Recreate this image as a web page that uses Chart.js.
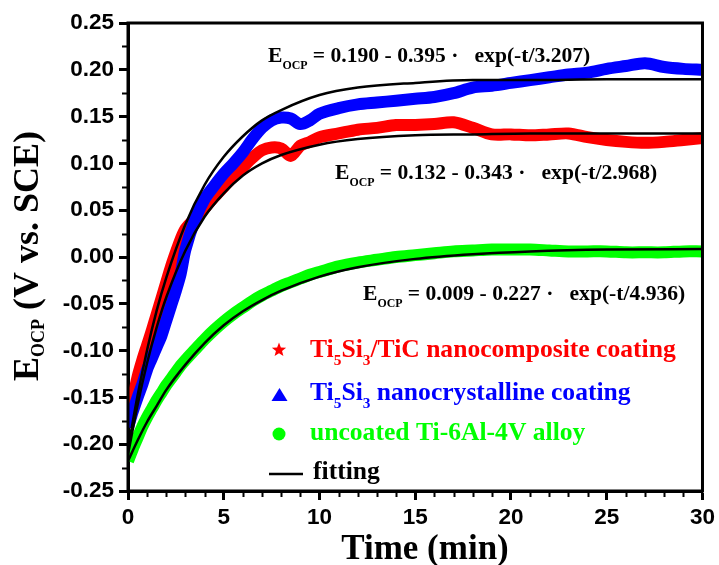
<!DOCTYPE html>
<html>
<head>
<meta charset="utf-8">
<script src="https://cdn.jsdelivr.net/npm/chart.js@4.4.1/dist/chart.umd.min.js"></script>
<style>
  html, body { margin: 0; padding: 0; background: #fff; }
  #wrap { width: 719px; height: 565px; }
</style>
</head>
<body>
<div id="wrap"><canvas id="ocpChart" width="719" height="565"></canvas></div>
<script>
// measured curves (time in min, E in V vs. SCE)
const timeData = [0, 0.25, 0.5, 0.75, 1, 1.25, 1.5, 1.75, 2, 2.25, 2.5, 2.75, 3,
  3.5, 4, 4.5, 5, 5.5, 6, 6.5, 7, 7.5, 8, 8.5, 9, 9.5, 10,
  11, 12, 13, 14, 15, 16, 17, 18, 19, 20, 21, 22, 23, 24, 25, 26, 27, 28, 29, 30];

const compositeData = [-0.180, -0.152, -0.128, -0.110, -0.094, -0.078, -0.061, -0.044, -0.027, -0.010, 0.005, 0.019, 0.030,
  0.041, 0.052, 0.064, 0.075, 0.086, 0.096, 0.106, 0.114, 0.117, 0.116, 0.108, 0.119, 0.123, 0.128,
  0.132, 0.136, 0.138, 0.141, 0.141, 0.142, 0.144, 0.138, 0.131, 0.131, 0.130, 0.131, 0.132, 0.128, 0.125, 0.123, 0.122, 0.123, 0.125, 0.127];

const nanocrystData = [-0.182, -0.165, -0.150, -0.136, -0.120, -0.108, -0.096, -0.084, -0.068, -0.052, -0.036, -0.018, 0.008,
  0.040, 0.062, 0.076, 0.089, 0.100, 0.112, 0.126, 0.138, 0.146, 0.149, 0.148, 0.142, 0.146, 0.153,
  0.159, 0.163, 0.165, 0.167, 0.169, 0.171, 0.175, 0.181, 0.183, 0.186, 0.189, 0.192, 0.195, 0.197, 0.201, 0.204, 0.207, 0.203, 0.201, 0.200];

const uncoatedData = [-0.218, -0.205, -0.193, -0.181, -0.171, -0.162, -0.153, -0.145, -0.137, -0.130, -0.123, -0.116, -0.110,
  -0.099, -0.088, -0.078, -0.069, -0.061, -0.054, -0.047, -0.041, -0.036, -0.031, -0.027, -0.023, -0.019, -0.016,
  -0.010, -0.006, -0.003, 0.000, 0.002, 0.004, 0.006, 0.007, 0.008, 0.008, 0.008, 0.007, 0.006, 0.006, 0.006, 0.005, 0.005, 0.005, 0.006, 0.006];

// fitted curves
const timeFit = [0, 0.5, 1, 1.5, 2, 3, 4, 5, 6, 7, 8, 10, 12, 15, 18, 21, 25, 30];
const fitNanocryst = [-0.205, -0.148, -0.099, -0.057, -0.022, 0.035, 0.077, 0.107, 0.129, 0.146, 0.157, 0.173, 0.181, 0.186, 0.189, 0.189, 0.190, 0.190];
const fitComposite = [-0.211, -0.158, -0.113, -0.075, -0.043, 0.007, 0.043, 0.068, 0.087, 0.100, 0.109, 0.120, 0.126, 0.130, 0.131, 0.132, 0.132, 0.132];
const fitUncoated = [-0.218, -0.196, -0.176, -0.159, -0.142, -0.115, -0.092, -0.073, -0.058, -0.046, -0.036, -0.021, -0.011, -0.002, 0.003, 0.006, 0.008, 0.0085];

const xTickLabels = ['0', '5', '10', '15', '20', '25', '30'];
const yTickLabels = ['-0.25', '-0.20', '-0.15', '-0.10', '-0.05', '0.00', '0.05', '0.10', '0.15', '0.20', '0.25'];

// {..} = subscript
const seriesLabels = ['Ti{5}Si{3}/TiC nanocomposite coating', 'Ti{5}Si{3} nanocrystalline coating', 'uncoated Ti-6Al-4V alloy', 'fitting'];
const fitLabels = ['E{OCP} = 0.190 - 0.395 \u00b7   exp(-t/3.207)', 'E{OCP} = 0.132 - 0.343 \u00b7   exp(-t/2.968)', 'E{OCP} = 0.009 - 0.227 \u00b7   exp(-t/4.936)'];
const xTitle = 'Time (min)';
const yTitle = 'E{OCP} (V vs. SCE)';

const RED = '#ff0000', BLUE = '#0000ff', GREEN = '#00ff00';

function pts(xs, ys) { return xs.map((t, i) => ({ x: t, y: ys[i] })); }

function richParts(str) {
  return str.split(/(\{[^}]*\})/).filter(Boolean).map(s =>
    s[0] === '{' ? { text: s.slice(1, -1), sub: true } : { text: s, sub: false });
}
function drawRich(ctx, str, x, y, size, subScale, subDrop, color, noDraw) {
  let cx = x;
  ctx.fillStyle = color;
  ctx.textAlign = 'left';
  ctx.textBaseline = 'alphabetic';
  for (const p of richParts(str)) {
    const fs = p.sub ? size * subScale : size;
    ctx.font = 'bold ' + fs + 'px "Liberation Serif"';
    if (!noDraw) ctx.fillText(p.text, cx, p.sub ? y + size * subDrop : y);
    cx += ctx.measureText(p.text).width;
  }
  return cx - x;
}

function star(ctx, cx, cy, R, r) {
  ctx.beginPath();
  for (let i = 0; i < 10; i++) {
    const a = -Math.PI / 2 + i * Math.PI / 5;
    const rr = i % 2 ? r : R;
    ctx.lineTo(cx + rr * Math.cos(a), cy + rr * Math.sin(a));
  }
  ctx.closePath();
  ctx.fill();
}

const decorPlugin = {
  id: 'decor',
  afterDraw(chart) {
    const { ctx, chartArea: a, scales: { x, y } } = chart;
    ctx.save();
    // frame
    ctx.strokeStyle = '#000';
    ctx.lineWidth = 3;
    ctx.strokeRect(a.left, a.top, a.right - a.left, a.bottom - a.top);
    // minor ticks
    ctx.lineWidth = 2;
    ctx.beginPath();
    for (let t = 1; t < 30; t++) {
      if (t % 5 === 0) continue;
      const px = Math.round(x.getPixelForValue(t)) + 0.5;
      ctx.moveTo(px, a.bottom); ctx.lineTo(px, a.bottom + 6);
    }
    for (let k = 0; k < 10; k++) {
      const py = Math.round(y.getPixelForValue(-0.225 + k * 0.05)) + 0.5;
      ctx.moveTo(a.left - 6, py); ctx.lineTo(a.left, py);
    }
    ctx.stroke();

    // fit equations
    const eqPos = [[268, 62], [335, 179], [363, 300]];
    fitLabels.forEach((s, i) => drawRich(ctx, s, eqPos[i][0], eqPos[i][1], 21.6, 0.55, 0.33, '#000'));

    // legend
    const cols = [RED, BLUE, GREEN, '#000'];
    const rowY = [357, 400, 440, 479];
    seriesLabels.forEach((s, i) => drawRich(ctx, s, i === 3 ? 313 : 310, rowY[i], 25.6, 0.6, 0.3, cols[i]));
    ctx.fillStyle = RED;
    star(ctx, 279, 350, 7.5, 3.2);
    ctx.fillStyle = BLUE;
    ctx.beginPath(); ctx.moveTo(279.5, 388); ctx.lineTo(287.5, 401); ctx.lineTo(271.5, 401); ctx.closePath(); ctx.fill();
    ctx.fillStyle = GREEN;
    ctx.beginPath(); ctx.arc(279, 434, 6.5, 0, Math.PI * 2); ctx.fill();
    ctx.strokeStyle = '#000'; ctx.lineWidth = 2.5;
    ctx.beginPath(); ctx.moveTo(269, 474); ctx.lineTo(303, 474); ctx.stroke();

    // axis titles
    const w = drawRich(ctx, xTitle, 0, 0, 35, 0.6, 0.3, '#000', true);
    drawRich(ctx, xTitle, 425 - w / 2, 559, 35, 0.6, 0.3, '#000');
    ctx.translate(38, 381);
    ctx.rotate(-Math.PI / 2);
    drawRich(ctx, yTitle, 0, 0, 36, 0.5, 0.16, '#000');
    ctx.restore();
  }
};

const tickFont = { family: '"Liberation Sans"', weight: 'bold', size: 22.5 };

new Chart(document.getElementById('ocpChart').getContext('2d'), {
  type: 'line',
  data: {
    datasets: [
      { data: pts(timeFit, fitNanocryst), borderColor: '#000', borderWidth: 2.5, pointRadius: 0, cubicInterpolationMode: 'monotone', order: 0 },
      { data: pts(timeFit, fitComposite), borderColor: '#000', borderWidth: 2.5, pointRadius: 0, cubicInterpolationMode: 'monotone', order: 0 },
      { data: pts(timeFit, fitUncoated), borderColor: '#000', borderWidth: 2.5, pointRadius: 0, cubicInterpolationMode: 'monotone', order: 0 },
      { data: pts(timeData, nanocrystData), borderColor: BLUE, borderWidth: 12, pointRadius: 0, tension: 0.3, borderJoinStyle: 'round', order: 1 },
      { data: pts(timeData, compositeData), borderColor: RED, borderWidth: 12, pointRadius: 0, tension: 0.3, borderJoinStyle: 'round', order: 2 },
      { data: pts(timeData, uncoatedData), borderColor: GREEN, borderWidth: 12, pointRadius: 0, tension: 0.3, borderJoinStyle: 'round', order: 3 }
    ]
  },
  options: {
    responsive: false,
    animation: false,
    events: [],
    layout: { padding: { top: 23, right: 13, left: 0, bottom: 0 } },
    plugins: { legend: { display: false }, tooltip: { enabled: false } },
    scales: {
      x: {
        type: 'linear',
        min: 0, max: 30,
        afterFit(s) { s.height = 74; },
        afterBuildTicks(s) { s.ticks = xTickLabels.map(v => ({ value: Number(v) })); },
        ticks: {
          autoSkip: false, maxRotation: 0, padding: 4, color: '#000', font: tickFont,
          callback: (v, i) => xTickLabels[i]
        },
        grid: { drawOnChartArea: false, tickLength: 9, tickWidth: 3, tickColor: '#000' },
        border: { width: 3, color: '#000' }
      },
      y: {
        min: -0.25, max: 0.25,
        afterFit(s) { s.width = 128; },
        afterBuildTicks(s) { s.ticks = yTickLabels.map(v => ({ value: Number(v) })); },
        ticks: {
          autoSkip: false, padding: 5, color: '#000', font: tickFont,
          callback: (v, i) => yTickLabels[i]
        },
        grid: { drawOnChartArea: false, tickLength: 9, tickWidth: 3, tickColor: '#000' },
        border: { width: 3, color: '#000' }
      }
    }
  },
  plugins: [decorPlugin]
});
</script>
</body>
</html>
